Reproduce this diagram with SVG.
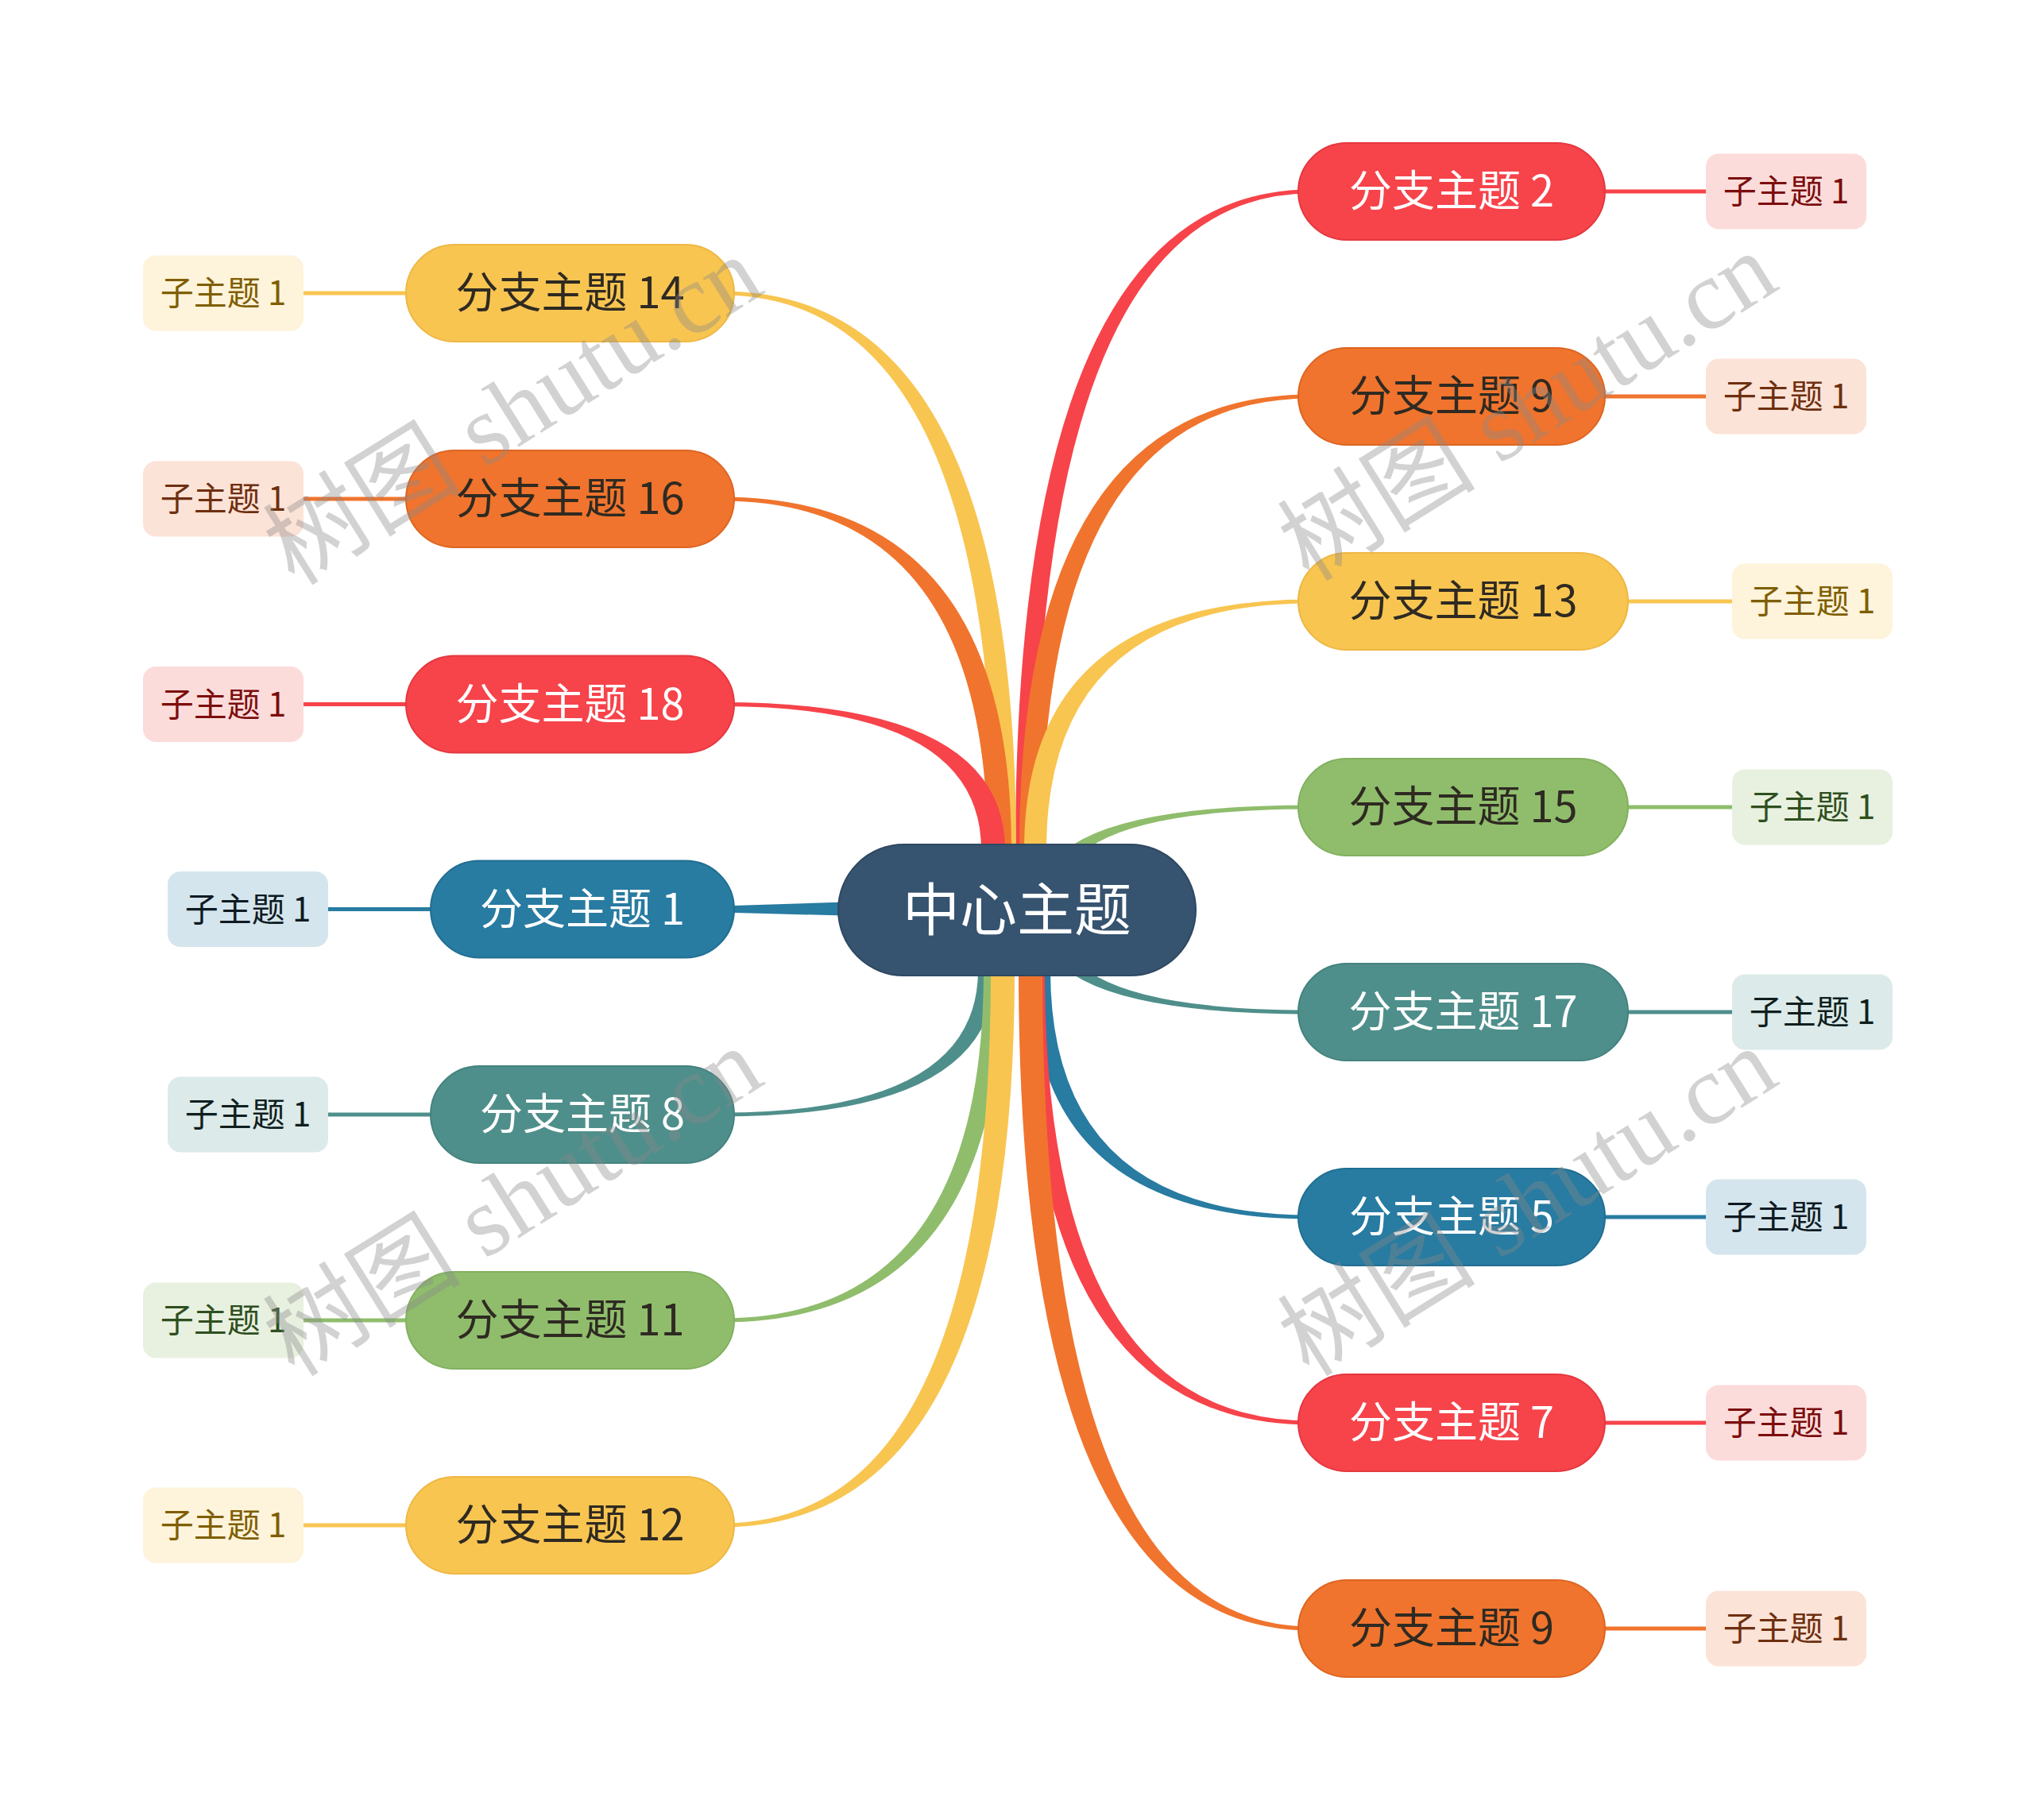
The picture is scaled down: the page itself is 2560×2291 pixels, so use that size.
<svg xmlns="http://www.w3.org/2000/svg" width="2560" height="2291" viewBox="0 0 2560 2291">
<style>
text{font-family:"Noto Sans CJK SC","Noto Sans",sans-serif;text-anchor:middle}
.bt{font-size:54px}
.st{font-size:42px}
.ct{font-size:72px;fill:#ffffff}
.sub{stroke-width:5;fill:none}
.wm{font-family:"Liberation Serif","Noto Sans CJK SC",serif;font-size:125px;fill:#8a8a8a;fill-opacity:0.38}
.red{fill:#F7434A;stroke:#E43840;stroke-width:2}
.ora{fill:#F0742D;stroke:#DD6522;stroke-width:2}
.yel{fill:#F8C551;stroke:#EDB844;stroke-width:2}
.gre{fill:#8FBD6C;stroke:#82B05F;stroke-width:2}
.tea{fill:#4F8F8B;stroke:#44827E;stroke-width:2}
.blu{fill:#287BA1;stroke:#216E92;stroke-width:2}
.sred{fill:#FCDCDB}.sora{fill:#FCE3D7}.syel{fill:#FEF3DB}.sgre{fill:#E8F1E0}.stea{fill:#DCEAE9}.sblu{fill:#D4E5ED}
.tred{fill:#7B0D0D}.tora{fill:#6E2F10}.tyel{fill:#7F5E00}.tgre{fill:#2F4F1F}.ttea{fill:#0F1F1F}.tblu{fill:#0F1A22}
.w{fill:#ffffff}.d{fill:#2F2A22}
</style>
<rect width="2560" height="2291" fill="#ffffff"/>
<g id="connectors">
<path fill="#F7434A" d="M1278,1070 Q1278,238.5 1650,238.5 L1650,243.5 Q1302,243.5 1302,1070 Z"/>
<path fill="#F0742D" d="M1283,1070 Q1283,496.5 1650,496.5 L1650,501.5 Q1311,501.5 1311,1070 Z"/>
<path fill="#F8C551" d="M1289,1070 Q1289,754.5 1650,754.5 L1650,759.5 Q1317,759.5 1317,1070 Z"/>
<path fill="#8FBD6C" d="M1310,1130 Q1310,1013.5 1650,1013.5 L1650,1018.5 Q1334,1018.5 1334,1130 Z"/>
<path fill="#4F8F8B" d="M1310,1160 Q1310,1276.5 1650,1276.5 L1650,1271.5 Q1334,1271.5 1334,1160 Z"/>
<path fill="#287BA1" d="M1298,1221 Q1298,1534.5 1650,1534.5 L1650,1529.5 Q1322,1529.5 1322,1221 Z"/>
<path fill="#F7434A" d="M1291,1221 Q1291,1793.5 1650,1793.5 L1650,1788.5 Q1315,1788.5 1315,1221 Z"/>
<path fill="#F0742D" d="M1282,1221 Q1282,2052.5 1650,2052.5 L1650,2047.5 Q1312,2047.5 1312,1221 Z"/>
<path fill="#287BA1" d="M1080,1135 L908,1140.5 L908,1148.5 L1080,1153 Z"/>
<path fill="#4F8F8B" d="M1253,1221 Q1253,1405.5 908,1405.5 L908,1400.5 Q1231,1400.5 1231,1221 Z"/>
<path fill="#8FBD6C" d="M1262,1221 Q1262,1664.5 908,1664.5 L908,1659.5 Q1238,1659.5 1238,1221 Z"/>
<path fill="#F8C551" d="M1277,1221 Q1277,1922.5 908,1922.5 L908,1917.5 Q1247,1917.5 1247,1221 Z"/>
<path fill="#F8C551" d="M1279,1070 Q1279,366.5 908,366.5 L908,371.5 Q1251,371.5 1251,1070 Z"/>
<path fill="#F0742D" d="M1273,1070 Q1273,625.5 908,625.5 L908,630.5 Q1243,630.5 1243,1070 Z"/>
<path fill="#F7434A" d="M1265,1070 Q1265,884 908,884 L908,889 Q1235,889 1235,1070 Z"/>
<line class="sub" stroke="#F7434A" x1="2015" y1="241" x2="2150" y2="241"/>
<line class="sub" stroke="#F0742D" x1="2015" y1="499" x2="2150" y2="499"/>
<line class="sub" stroke="#F8C551" x1="2044" y1="757" x2="2183" y2="757"/>
<line class="sub" stroke="#8FBD6C" x1="2044" y1="1016" x2="2183" y2="1016"/>
<line class="sub" stroke="#4F8F8B" x1="2044" y1="1274" x2="2183" y2="1274"/>
<line class="sub" stroke="#287BA1" x1="2015" y1="1532" x2="2150" y2="1532"/>
<line class="sub" stroke="#F7434A" x1="2015" y1="1791" x2="2150" y2="1791"/>
<line class="sub" stroke="#F0742D" x1="2015" y1="2050" x2="2150" y2="2050"/>
<line class="sub" stroke="#F8C551" x1="377" y1="369" x2="516" y2="369"/>
<line class="sub" stroke="#F0742D" x1="377" y1="628" x2="516" y2="628"/>
<line class="sub" stroke="#F7434A" x1="377" y1="886.5" x2="516" y2="886.5"/>
<line class="sub" stroke="#287BA1" x1="408" y1="1144.5" x2="547" y2="1144.5"/>
<line class="sub" stroke="#4F8F8B" x1="408" y1="1403" x2="547" y2="1403"/>
<line class="sub" stroke="#8FBD6C" x1="377" y1="1662" x2="516" y2="1662"/>
<line class="sub" stroke="#F8C551" x1="377" y1="1920" x2="516" y2="1920"/>
</g>
<g id="center">
<rect x="1055" y="1063" width="450" height="165" rx="82.5" fill="#36536F" stroke="#2E4861" stroke-width="2"/>
<text class="ct" x="1280" y="1171">中心主题</text>
</g>
<g id="b2"><rect class="red" x="1634" y="180" width="386" height="122" rx="61"/><text class="bt w" x="1827" y="260">分支主题 2</text></g>
<g id="b9"><rect class="ora" x="1634" y="438" width="386" height="122" rx="61"/><text class="bt d" x="1827" y="518">分支主题 9</text></g>
<g id="b13"><rect class="yel" x="1634" y="696" width="415" height="122" rx="61"/><text class="bt d" x="1841.5" y="776">分支主题 13</text></g>
<g id="b15"><rect class="gre" x="1634" y="955" width="415" height="122" rx="61"/><text class="bt d" x="1841.5" y="1035">分支主题 15</text></g>
<g id="b17"><rect class="tea" x="1634" y="1213" width="415" height="122" rx="61"/><text class="bt w" x="1841.5" y="1293">分支主题 17</text></g>
<g id="b5"><rect class="blu" x="1634" y="1471" width="386" height="122" rx="61"/><text class="bt w" x="1827" y="1551">分支主题 5</text></g>
<g id="b7"><rect class="red" x="1634" y="1730" width="386" height="122" rx="61"/><text class="bt w" x="1827" y="1810">分支主题 7</text></g>
<g id="b9b"><rect class="ora" x="1634" y="1989" width="386" height="122" rx="61"/><text class="bt d" x="1827" y="2069">分支主题 9</text></g>
<g id="b14"><rect class="yel" x="511" y="308" width="413" height="122" rx="61"/><text class="bt d" x="717.5" y="388">分支主题 14</text></g>
<g id="b16"><rect class="ora" x="511" y="567" width="413" height="122" rx="61"/><text class="bt d" x="717.5" y="647">分支主题 16</text></g>
<g id="b18"><rect class="red" x="511" y="825.5" width="413" height="122" rx="61"/><text class="bt w" x="717.5" y="905.5">分支主题 18</text></g>
<g id="b1"><rect class="blu" x="542" y="1083.5" width="382" height="122" rx="61"/><text class="bt w" x="733" y="1163.5">分支主题 1</text></g>
<g id="b8"><rect class="tea" x="542" y="1342" width="382" height="122" rx="61"/><text class="bt w" x="733" y="1422">分支主题 8</text></g>
<g id="b11"><rect class="gre" x="511" y="1601" width="413" height="122" rx="61"/><text class="bt d" x="717.5" y="1681">分支主题 11</text></g>
<g id="b12"><rect class="yel" x="511" y="1859" width="413" height="122" rx="61"/><text class="bt d" x="717.5" y="1939">分支主题 12</text></g>
<g id="s2"><rect class="sred" x="2147" y="193.5" width="202" height="95" rx="16"/><text class="st tred" x="2248" y="256">子主题 1</text></g>
<g id="s9"><rect class="sora" x="2147" y="451.5" width="202" height="95" rx="16"/><text class="st tora" x="2248" y="514">子主题 1</text></g>
<g id="s13"><rect class="syel" x="2180" y="709.5" width="202" height="95" rx="16"/><text class="st tyel" x="2281" y="772">子主题 1</text></g>
<g id="s15"><rect class="sgre" x="2180" y="968.5" width="202" height="95" rx="16"/><text class="st tgre" x="2281" y="1031">子主题 1</text></g>
<g id="s17"><rect class="stea" x="2180" y="1226.5" width="202" height="95" rx="16"/><text class="st ttea" x="2281" y="1289">子主题 1</text></g>
<g id="s5"><rect class="sblu" x="2147" y="1484.5" width="202" height="95" rx="16"/><text class="st tblu" x="2248" y="1547">子主题 1</text></g>
<g id="s7"><rect class="sred" x="2147" y="1743.5" width="202" height="95" rx="16"/><text class="st tred" x="2248" y="1806">子主题 1</text></g>
<g id="s9b"><rect class="sora" x="2147" y="2002.5" width="202" height="95" rx="16"/><text class="st tora" x="2248" y="2065">子主题 1</text></g>
<g id="s14"><rect class="syel" x="180" y="321.5" width="202" height="95" rx="16"/><text class="st tyel" x="281" y="384">子主题 1</text></g>
<g id="s16"><rect class="sora" x="180" y="580.5" width="202" height="95" rx="16"/><text class="st tora" x="281" y="643">子主题 1</text></g>
<g id="s18"><rect class="sred" x="180" y="839" width="202" height="95" rx="16"/><text class="st tred" x="281" y="901.5">子主题 1</text></g>
<g id="s1"><rect class="sblu" x="211" y="1097" width="202" height="95" rx="16"/><text class="st tblu" x="312" y="1159.5">子主题 1</text></g>
<g id="s8"><rect class="stea" x="211" y="1355.5" width="202" height="95" rx="16"/><text class="st ttea" x="312" y="1418">子主题 1</text></g>
<g id="s11"><rect class="sgre" x="180" y="1614.5" width="202" height="95" rx="16"/><text class="st tgre" x="281" y="1677">子主题 1</text></g>
<g id="s12"><rect class="syel" x="180" y="1872.5" width="202" height="95" rx="16"/><text class="st tyel" x="281" y="1935">子主题 1</text></g>
<g id="watermark">
<text class="wm" transform="translate(647,519) rotate(-32)" x="0" y="40">树图 shutu.cn</text>
<text class="wm" transform="translate(1924,514) rotate(-32)" x="0" y="40">树图 shutu.cn</text>
<text class="wm" transform="translate(647,1515) rotate(-32)" x="0" y="40">树图 shutu.cn</text>
<text class="wm" transform="translate(1924,1515) rotate(-32)" x="0" y="40">树图 shutu.cn</text>
</g>
</svg>
